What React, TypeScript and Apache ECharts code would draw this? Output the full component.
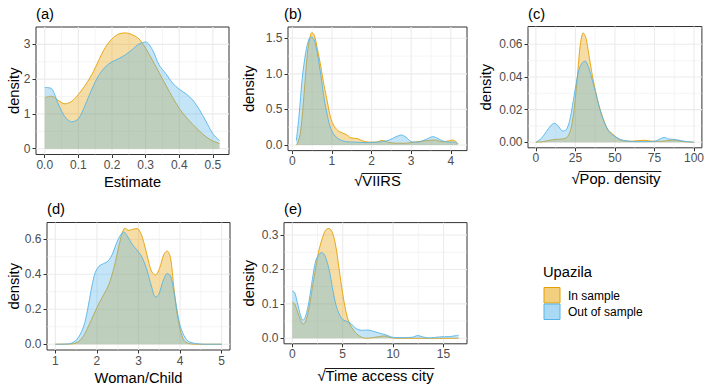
import React, { useEffect, useRef } from 'react';
import * as echarts from 'echarts';

// ---------------- data ----------------
// (a) Estimate
const aX = [0, 0.02, 0.04, 0.06, 0.08, 0.1, 0.12, 0.14, 0.16, 0.18, 0.2, 0.22, 0.24, 0.26, 0.28, 0.3, 0.32, 0.34, 0.36, 0.38, 0.4, 0.42, 0.44, 0.46, 0.48, 0.5, 0.52];
const aIn = [1.47, 1.51, 1.39, 1.29, 1.36, 1.56, 1.82, 2.13, 2.53, 2.91, 3.16, 3.3, 3.33, 3.28, 3.16, 2.89, 2.55, 2.19, 1.83, 1.48, 1.16, 0.91, 0.7, 0.51, 0.34, 0.22, 0.15];
const aOut = [1.76, 1.73, 1.29, 0.92, 0.77, 0.86, 1.25, 1.71, 2.1, 2.35, 2.5, 2.59, 2.7, 2.85, 3.01, 3.07, 2.85, 2.41, 2.16, 1.89, 1.71, 1.58, 1.4, 1.12, 0.78, 0.43, 0.23];

// (b) sqrt VIIRS
const bInX = [0.1, 0.13, 0.21, 0.3, 0.38, 0.44, 0.49, 0.55, 0.63, 0.72, 0.8, 0.89, 0.97, 1.06, 1.18, 1.35, 1.48, 1.65, 1.78, 1.94, 2.11, 2.27, 2.41, 2.62, 2.87, 3.13, 3.38, 3.59, 3.8, 3.97, 4.06, 4.18];
const bIn = [0.005, 0.02, 0.19, 0.75, 1.29, 1.5, 1.58, 1.55, 1.36, 1.1, 0.84, 0.59, 0.375, 0.26, 0.19, 0.15, 0.1, 0.09, 0.056, 0.04, 0.04, 0.065, 0.04, 0.025, 0.025, 0.045, 0.06, 0.07, 0.045, 0.06, 0.07, 0.02];
const bOutX = [0.1, 0.17, 0.25, 0.34, 0.42, 0.48, 0.55, 0.63, 0.72, 0.8, 0.89, 0.97, 1.06, 1.18, 1.35, 1.6, 1.86, 2.11, 2.28, 2.45, 2.62, 2.75, 2.87, 3.0, 3.17, 3.38, 3.55, 3.68, 3.8, 3.97, 4.1, 4.18];
const bOut = [0.06, 0.42, 0.94, 1.31, 1.49, 1.52, 1.48, 1.29, 0.98, 0.66, 0.4, 0.23, 0.14, 0.08, 0.047, 0.04, 0.033, 0.04, 0.047, 0.07, 0.117, 0.14, 0.11, 0.047, 0.04, 0.08, 0.117, 0.09, 0.056, 0.04, 0.04, 0.02];

// (c) sqrt Pop. density
const cInX = [0, 4.6, 8.7, 12.9, 17, 20.1, 22.2, 24.3, 26.3, 28, 29.9, 31.5, 33.6, 35.7, 37.8, 39.8, 42.9, 45.6, 48.1, 50.2, 53.3, 56.4, 60.6, 64.7, 68.9, 74, 79.3, 83.4, 87.6, 91.7, 95.9, 100];
const cIn = [0, 0.0004, 0.0012, 0.0018, 0.002, 0.0035, 0.0085, 0.021, 0.041, 0.059, 0.067, 0.0645, 0.053, 0.041, 0.031, 0.0228, 0.0136, 0.0075, 0.0055, 0.0035, 0.0014, 0.0008, 0.0006, 0.001, 0.0012, 0.0006, 0.0006, 0.001, 0.0014, 0.0006, 0.0002, 0];
const cOutX = [0, 3.5, 6.6, 9.8, 11.8, 13.9, 17, 19.1, 21.2, 23.2, 25.3, 27.4, 29.5, 31.1, 33.2, 35.7, 38.2, 40.9, 44, 47.1, 50.2, 53.3, 56.4, 62.7, 68.9, 75.1, 79.3, 81.3, 83.8, 86.5, 89.6, 93.8, 97.9, 100];
const cOut = [0, 0.0024, 0.0065, 0.0106, 0.0116, 0.0102, 0.0069, 0.0075, 0.0126, 0.0228, 0.035, 0.045, 0.0488, 0.0497, 0.0462, 0.038, 0.0289, 0.0187, 0.0106, 0.0055, 0.0035, 0.0018, 0.001, 0.0004, 0.0004, 0.0006, 0.0024, 0.003, 0.002, 0.0018, 0.0014, 0.0006, 0.0002, 0];

// (d) Woman/Child
const dInX = [1, 1.4, 1.56, 1.68, 1.8, 1.92, 2.04, 2.16, 2.29, 2.41, 2.53, 2.61, 2.67, 2.77, 2.86, 2.97, 3.05, 3.13, 3.21, 3.31, 3.41, 3.51, 3.61, 3.69, 3.77, 3.85, 3.93, 4.01, 4.09, 4.21, 4.45, 5];
const dIn = [0, 0.002, 0.015, 0.048, 0.105, 0.168, 0.229, 0.282, 0.343, 0.438, 0.562, 0.638, 0.663, 0.651, 0.657, 0.661, 0.638, 0.581, 0.505, 0.419, 0.396, 0.438, 0.514, 0.533, 0.495, 0.324, 0.171, 0.076, 0.023, 0.004, 0, 0];
const dOutX = [1, 1.32, 1.48, 1.6, 1.71, 1.8, 1.88, 1.96, 2.06, 2.16, 2.27, 2.37, 2.46, 2.57, 2.65, 2.73, 2.85, 2.97, 3.09, 3.21, 3.31, 3.41, 3.49, 3.59, 3.69, 3.77, 3.85, 3.93, 4.01, 4.12, 4.21, 4.37, 4.61, 5];
const dOut = [0, 0.002, 0.019, 0.057, 0.124, 0.229, 0.333, 0.41, 0.448, 0.461, 0.476, 0.514, 0.571, 0.625, 0.642, 0.619, 0.571, 0.537, 0.495, 0.419, 0.333, 0.27, 0.286, 0.362, 0.404, 0.39, 0.305, 0.19, 0.099, 0.038, 0.015, 0.004, 0, 0];

// (e) sqrt Time access city
const eInX = [0, 0.23, 0.5, 0.83, 1.06, 1.33, 1.66, 1.99, 2.32, 2.66, 2.99, 3.32, 3.65, 3.98, 4.31, 4.65, 4.98, 5.31, 5.64, 6.14, 6.64, 7.3, 7.97, 8.63, 9.13, 9.62, 10.3, 16.5];
const eIn = [0.104, 0.1, 0.079, 0.052, 0.041, 0.05, 0.089, 0.147, 0.205, 0.258, 0.292, 0.315, 0.319, 0.307, 0.268, 0.2, 0.133, 0.079, 0.045, 0.021, 0.007, 0, 0.002, 0.005, 0.007, 0.003, 0, 0];
const eOutX = [0, 0.23, 0.5, 0.83, 1.06, 1.33, 1.66, 1.99, 2.32, 2.66, 2.92, 3.25, 3.65, 3.98, 4.31, 4.65, 4.98, 5.31, 5.64, 6.04, 6.47, 6.97, 7.47, 7.97, 8.63, 9.29, 9.79, 10.3, 11.3, 11.9, 12.45, 12.95, 13.6, 14.6, 15.6, 16.5];
const eOut = [0.137, 0.133, 0.104, 0.065, 0.052, 0.065, 0.108, 0.171, 0.225, 0.244, 0.249, 0.239, 0.2, 0.147, 0.099, 0.07, 0.055, 0.05, 0.047, 0.036, 0.026, 0.023, 0.024, 0.021, 0.015, 0.01, 0.004, 0.002, 0.002, 0.003, 0.008, 0.004, 0.001, 0.004, 0.005, 0.009];

// ticks
const aXTicks = [0, 0.1, 0.2, 0.3, 0.4, 0.5];
const aYTicks = [0, 1, 2, 3];
const bXTicks = [0, 1, 2, 3, 4];
const bYTicks = [0, 0.5, 1, 1.5];
const cXTicks = [0, 25, 50, 75, 100];
const cYTicks = [0, 0.02, 0.04, 0.06];
const dXTicks = [1, 2, 3, 4, 5];
const dYTicks = [0, 0.2, 0.4, 0.6];
const eXTicks = [0, 5, 10, 15];
const eYTicks = [0, 0.1, 0.2, 0.3];

const groupNames = ['In sample', 'Out of sample'];
const legendTitle = 'Upazila';
const yTitle = 'density';

// ---------------- style ----------------
const IN_COLOR = '#E69F00';
const OUT_COLOR = '#56B4E9';
const IN_FILL = 'rgba(230,159,0,0.5)';
const OUT_FILL = 'rgba(86,180,233,0.5)';
const FONT = '"Liberation Sans", Arial, Helvetica, sans-serif';
const TICK_FS = 12;
const TITLE_FS = 14.7;

const zip = (xs: number[], ys: number[]) => xs.map((x, i) => [x, ys[i]]);
const midpoints = (t: number[], lo: number, hi: number) => {
  const step = t[1] - t[0];
  const out: number[] = [];
  for (let v = t[0] - step / 2; v < hi; v += step) if (v > lo) out.push(+v.toFixed(6));
  return out;
};

type Panel = {
  tag: string; tagX: number; tagY: number;
  xTitle: string; sqrt: boolean; xTitleY: number; yTitleX: number;
  left: number; top: number; width: number; height: number;
  xMin: number; xMax: number; yMin: number; yMax: number;
  xTicks: number[]; yTicks: number[]; xDec: number; yDec: number;
  inD: number[][]; outD: number[][];
};

const panels: Panel[] = [
  { tag: '(a)', tagX: 36, tagY: 14, xTitle: 'Estimate', sqrt: false, xTitleY: 181.5, yTitleX: 13.5,
    left: 36, top: 27, width: 193, height: 127.5, xMin: -0.026, xMax: 0.548, yMin: -0.167, yMax: 3.5,
    xTicks: aXTicks, yTicks: aYTicks, xDec: 1, yDec: 0, inD: zip(aX, aIn), outD: zip(aX, aOut) },
  { tag: '(b)', tagX: 284, tagY: 14, xTitle: 'VIIRS', sqrt: true, xTitleY: 180.5, yTitleX: 249,
    left: 288, top: 27, width: 179, height: 123.6, xMin: -0.11, xMax: 4.41, yMin: -0.079, yMax: 1.659,
    xTicks: bXTicks, yTicks: bYTicks, xDec: 0, yDec: 1, inD: zip(bInX, bIn), outD: zip(bOutX, bOut) },
  { tag: '(c)', tagX: 528, tagY: 14, xTitle: 'Pop. density', sqrt: true, xTitleY: 178.5, yTitleX: 486,
    left: 528, top: 26.5, width: 176, height: 121.3, xMin: -5, xMax: 105, yMin: -0.0034, yMax: 0.0709,
    xTicks: cXTicks, yTicks: cYTicks, xDec: 0, yDec: 2, inD: zip(cInX, cIn), outD: zip(cOutX, cOut) },
  { tag: '(d)', tagX: 47, tagY: 209, xTitle: 'Woman/Child', sqrt: false, xTitleY: 377.5, yTitleX: 13.5,
    left: 47, top: 222.5, width: 183, height: 127.5, xMin: 0.8, xMax: 5.2, yMin: -0.033, yMax: 0.696,
    xTicks: dXTicks, yTicks: dYTicks, xDec: 0, yDec: 1, inD: zip(dInX, dIn), outD: zip(dOutX, dOut) },
  { tag: '(e)', tagX: 284, tagY: 209, xTitle: 'Time access city', sqrt: true, xTitleY: 375.5, yTitleX: 249,
    left: 284, top: 222.6, width: 183, height: 121.2, xMin: -0.825, xMax: 17.33, yMin: -0.016, yMax: 0.336,
    xTicks: eXTicks, yTicks: eYTicks, xDec: 0, yDec: 1, inD: zip(eInX, eIn), outD: zip(eOutX, eOut) },
];

function measure(s: string, size: number) {
  const c = document.createElement('canvas').getContext('2d');
  if (!c) return s.length * size * 0.55;
  c.font = `${size}px ${FONT}`;
  return c.measureText(s).width;
}

function buildOption() {
  const grid: any[] = [];
  const xAxis: any[] = [];
  const yAxis: any[] = [];
  const series: any[] = [];
  const graphic: any[] = [];

  panels.forEach((p, i) => {
    grid.push({ left: p.left, top: p.top, width: p.width, height: p.height, show: true,
      borderColor: '#333333', borderWidth: 1, backgroundColor: 'transparent', z: 0 });
    const common = {
      gridIndex: i, type: 'value',
      axisLine: { show: false, onZero: false },
      splitLine: { show: false },
    };
    xAxis.push({ ...common, min: p.xMin, max: p.xMax,
      axisTick: { show: true, length: 3.5, lineStyle: { color: '#333333', width: 1 }, customValues: p.xTicks },
      axisLabel: { show: true, customValues: p.xTicks, color: '#4D4D4D', fontSize: TICK_FS, fontFamily: FONT, margin: 4.5,
        formatter: (v: number) => v.toFixed(p.xDec) },
    });
    yAxis.push({ ...common, min: p.yMin, max: p.yMax,
      axisTick: { show: true, length: 3.5, lineStyle: { color: '#333333', width: 1 }, customValues: p.yTicks },
      axisLabel: { show: true, customValues: p.yTicks, color: '#4D4D4D', fontSize: TICK_FS, fontFamily: FONT, margin: 5.5,
        formatter: (v: number) => v.toFixed(p.yDec) },
    });

    const xMinor = midpoints(p.xTicks, p.xMin, p.xMax);
    const yMinor = midpoints(p.yTicks, p.yMin, p.yMax);
    const gl = [
      ...p.xTicks.map((v) => [v, 0]), ...xMinor.map((v) => [v, 1]),
      ...p.yTicks.map((v) => [v, 2]), ...yMinor.map((v) => [v, 3]),
    ];
    series.push({
      type: 'custom', xAxisIndex: i, yAxisIndex: i, z: 1, silent: true, data: gl,
      renderItem: (_params: any, api: any) => {
        const v = api.value(0);
        const k = api.value(1);
        let a, b;
        if (k < 2) { a = api.coord([v, p.yMin]); b = api.coord([v, p.yMax]); }
        else { a = api.coord([p.xMin, v]); b = api.coord([p.xMax, v]); }
        return { type: 'line', shape: { x1: a[0], y1: a[1], x2: b[0], y2: b[1] },
          style: { stroke: '#EBEBEB', lineWidth: k % 2 === 0 ? 1.1 : 0.55 } };
      },
    });
    series.push({ type: 'line', name: groupNames[0], xAxisIndex: i, yAxisIndex: i, z: 2, data: p.inD,
      smooth: 0.3, symbol: 'none', lineStyle: { color: IN_COLOR, width: 0.9 }, areaStyle: { color: IN_FILL } });
    series.push({ type: 'line', name: groupNames[1], xAxisIndex: i, yAxisIndex: i, z: 3, data: p.outD,
      smooth: 0.3, symbol: 'none', lineStyle: { color: OUT_COLOR, width: 0.9 }, areaStyle: { color: OUT_FILL } });

    // tag
    graphic.push({ type: 'text', x: p.tagX, y: p.tagY, silent: true,
      style: { text: p.tag, fill: '#000', font: `${TITLE_FS}px ${FONT}`, textAlign: 'left', textVerticalAlign: 'middle', align: 'left', verticalAlign: 'middle' } });
    // y title
    graphic.push({ type: 'text', x: p.yTitleX, y: p.top + p.height / 2, rotation: Math.PI / 2, silent: true,
      style: { text: yTitle, fill: '#000', font: `${TITLE_FS}px ${FONT}`, textAlign: 'center', textVerticalAlign: 'middle', align: 'center', verticalAlign: 'middle' } });
    // x title
    const cx = p.left + p.width / 2;
    const label = p.sqrt ? '√' + p.xTitle : p.xTitle;
    graphic.push({ type: 'text', x: cx, y: p.xTitleY, silent: true,
      style: { text: label, fill: '#000', font: `${TITLE_FS}px ${FONT}`, textAlign: 'center', textVerticalAlign: 'middle', align: 'center', verticalAlign: 'middle' } });
    if (p.sqrt) {
      const tw = measure(label, TITLE_FS);
      const sw = measure('√', TITLE_FS);
      const x0 = cx - tw / 2;
      graphic.push({ type: 'line', silent: true,
        shape: { x1: x0 + sw * 0.9, y1: p.xTitleY - 7, x2: x0 + tw + 1, y2: p.xTitleY - 7 },
        style: { stroke: '#000', lineWidth: 0.9 } });
    }
  });

  // legend
  graphic.push({ type: 'text', x: 543, y: 272, silent: true,
    style: { text: legendTitle, fill: '#000', font: `${TITLE_FS}px ${FONT}`, textAlign: 'left', textVerticalAlign: 'middle', align: 'left', verticalAlign: 'middle' } });
  const keys = [[IN_FILL, IN_COLOR], [OUT_FILL, OUT_COLOR]];
  keys.forEach(([fill, stroke], j) => {
    const ky = 287.5 + j * 16.5;
    graphic.push({ type: 'rect', silent: true, shape: { x: 544, y: ky, width: 16, height: 15.5 },
      style: { fill, stroke, lineWidth: 1 } });
    graphic.push({ type: 'text', x: 568, y: ky + 8, silent: true,
      style: { text: groupNames[j], fill: '#000', font: `${TICK_FS}px ${FONT}`, textAlign: 'left', textVerticalAlign: 'middle', align: 'left', verticalAlign: 'middle' } });
  });

  return {
    animation: false,
    backgroundColor: '#ffffff',
    textStyle: { fontFamily: FONT },
    grid, xAxis, yAxis, series,
    graphic: { elements: graphic },
  };
}

export default function App() {
  const ref = useRef<HTMLDivElement>(null);
  useEffect(() => {
    if (!ref.current) return;
    const chart = echarts.init(ref.current, undefined, { renderer: 'svg' });
    chart.setOption(buildOption() as any);
    return () => chart.dispose();
  }, []);
  return <div ref={ref} style={{ position: 'fixed', left: 0, top: 0, width: 707, height: 388 }} />;
}
